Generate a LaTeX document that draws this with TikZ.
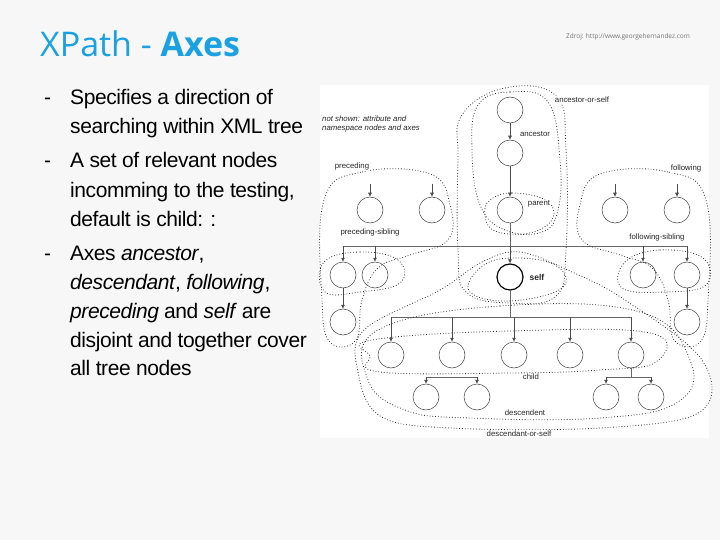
\documentclass[tikz,border=0pt]{standalone}
\usepackage{fontspec}
\setmainfont{Liberation Sans}
\newfontfamily\titlefont{Open Sans}
\usetikzlibrary{arrows.meta}
\begin{document}
\begin{tikzpicture}[x=1pt,y=-1pt,
  nd/.style={circle,draw=black!75,line width=0.5pt,minimum size=26pt,inner sep=0pt},
  ar/.style={draw=black!70,line width=0.6pt,-{Latex[length=4pt,width=4pt]}},
  ln/.style={draw=black!60,line width=0.8pt},
  ax/.style={dotted,line width=0.8pt,black!80},
  lab/.style={font=\fontsize{7.8}{9}\selectfont,text=black!85,inner sep=1pt},
  bl/.style={font=\fontsize{21}{23}\selectfont,anchor=base west,inner sep=0pt}]
\fill[black!3] (0,0) rectangle (720,540);
\useasboundingbox (0,0) rectangle (720,540);
\fill[white] (320,85) rectangle (709,438);
\node[anchor=base west,inner sep=0pt,text={rgb,255:red,27;green,161;blue,226}] (title) at (40,57)
  {\titlefont\fontsize{34}{36}\selectfont XPath - \textbf{Axes}};
\node[anchor=base west,inner sep=0pt,text=black!55] (src) at (566,39)
  {\titlefont\fontsize{6.5}{7}\selectfont Zdroj: http://www.georgehernandez.com};
\foreach \y/\t [count=\i] in {105/Specifies a direction of,134/searching within XML tree,168/A set of relevant nodes,197/{incomming to the testing,},226/default is child: :,260/{Axes \textit{ancestor},},289/{\textit{descendant}, \textit{following},},318/{\textit{preceding} and \textit{self} are},347/disjoint and together cover,375/all tree nodes}
  {\node[bl] (t\i) at (70,\y) {\addfontfeatures{LetterSpace=-2}\t};}
\foreach \y [count=\i] in {105,168,260} {\node[bl] (d\i) at (44,\y) {-};}
% nodes
\node[nd] (root) at (510,110) {};
\node[nd] (anc) at (510,153) {};
\node[nd] (par) at (510,210) {};
\node[nd] (p1) at (370,210) {};
\node[nd] (p2) at (432,210) {};
\node[nd] (f1) at (615,210) {};
\node[nd] (f2) at (677,210) {};
\node[nd] (ps1) at (343,275) {};
\node[nd] (ps2) at (375,275) {};
\node[nd,line width=1.2pt,draw=black] (self) at (510,277) {};
\node[nd] (fs1) at (643,275) {};
\node[nd] (fs2) at (687,275) {};
\node[nd] (ps3) at (343,322) {};
\node[nd] (fs3) at (687,322) {};
\foreach \x [count=\i] in {391,452,514,570,631} {\node[nd] (c\i) at (\x,355) {};}
\node[nd] (g1) at (426,397) {};
\node[nd] (g2) at (477,397) {};
\node[nd] (g3) at (606,397) {};
\node[nd] (g4) at (651,397) {};
% connectors
\coordinate (sbL) at (343,246); \coordinate (sbR) at (687,246);
\coordinate (cbL) at (391,317); \coordinate (cbR) at (631,317);
\coordinate (gbL) at (426,377); \coordinate (gbR) at (477,377);
\coordinate (hbL) at (606,377); \coordinate (hbR) at (651,377);
\draw[ar] (root) -- (anc);
\draw[ar] (anc) -- (par);
\foreach \n in {p1,p2,f1,f2} {\draw[ar] (\n.north) ++(0,-13) -- (\n.north);}
\draw[ln] (sbL) -- (sbR);
\draw[ln] (par) -- (510,246);
\foreach \n in {ps1,ps2,fs1,fs2,self} {\draw[ar] (\n.north |- sbL) -- (\n.north);}
\draw[ar] (ps1) -- (ps3);
\draw[ar] (fs2) -- (fs3);
\draw[ln] (cbL) -- (cbR);
\draw[ln] (self) -- (510,317);
\foreach \n in {c1,c2,c3,c4,c5} {\draw[ar] (\n.north |- cbL) -- (\n.north);}
\draw[ln] (gbL) -- (gbR); \draw[ln] (hbL) -- (hbR);
\draw[ln] (c5) -- (631,377);
\foreach \n/\b in {g1/gbL,g2/gbL,g3/hbL,g4/hbL} {\draw[ar] (\n.north |- \b) -- (\n.north);}
% axis outlines
\draw[ax] plot[smooth cycle,tension=0.7] coordinates {(462,115)(505,88)(556,96)(566,150)(566,250)(556,296)(510,303)(466,292)(458,250)(458,160)};
\draw[ax] plot[smooth cycle,tension=0.7] coordinates {(478,105)(510,92)(548,102)(560,160)(558,210)(542,232)(505,230)(480,205)(472,150)};
\draw[ax] plot[smooth cycle,tension=0.7] coordinates {(490,200)(512,193)(545,200)(553,218)(530,233)(495,231)(485,215)};
\draw[ax] plot[smooth cycle,tension=0.7] coordinates {(480,268)(510,258)(555,265)(562,288)(510,301)(470,292)};
\draw[ax] plot[smooth cycle,tension=0.7] coordinates {(324,200)(362,172)(430,174)(450,205)(448,240)(410,255)(378,268)(362,300)(356,340)(330,342)(322,300)};
\draw[ax] plot[smooth cycle,tension=0.7] coordinates {(324,262)(360,252)(398,260)(400,283)(360,292)(325,292)};
\draw[ax] plot[smooth cycle,tension=0.7] coordinates {(706,200)(668,172)(600,174)(580,205)(582,240)(620,255)(652,268)(668,300)(674,340)(700,342)(708,300)};
\draw[ax] plot[smooth cycle,tension=0.7] coordinates {(625,262)(660,250)(703,258)(706,285)(665,292)(622,288)};
\draw[ax] plot[smooth cycle,tension=0.7] coordinates {(372,340)(510,331)(650,333)(656,362)(600,370)(510,373)(380,372)(370,356)};
\draw[ax] plot[smooth cycle,tension=0.7] coordinates {(378,330)(500,306)(640,312)(690,360)(678,402)(600,418)(470,418)(405,410)(368,380)};
\draw[ax] plot[smooth cycle,tension=0.6] coordinates {(364,330)(440,290)(482,262)(520,252)(572,272)(625,300)(702,360)(700,412)(600,428)(450,428)(380,416)(358,372)};
% labels
\node[lab,fill=white] (la1) at (582,100) {ancestor-or-self};
\node[lab,fill=white] (la2) at (535,134) {ancestor};
\node[lab,fill=white] (la3) at (539,204) {parent};
\node[lab,align=left,font=\fontsize{7.8}{9}\selectfont\itshape] (la4) at (371,124) {not shown: attribute and\\namespace nodes and axes};
\node[lab,fill=white] (la5) at (352,166) {preceding};
\node[lab,fill=white] (la6) at (686,168) {following};
\node[lab,fill=white] (la7) at (370,232) {preceding-sibling};
\node[lab,fill=white] (la8) at (657,237) {following-sibling};
\node[lab,font=\fontsize{8.5}{9}\selectfont\bfseries] (la9) at (537,277) {self};
\node[lab] (la10) at (531,377) {child};
\node[lab] (la11) at (525,413) {descendent};
\node[lab,fill=white] (la12) at (519,434) {descendant-or-self};
\end{tikzpicture}
\end{document}
